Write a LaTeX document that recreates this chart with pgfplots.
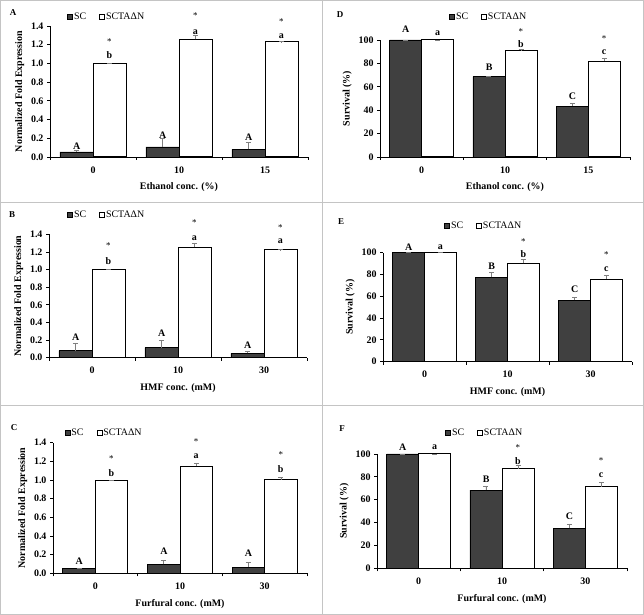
\documentclass[border=0pt]{standalone}
\usepackage{pgfplots}
\pgfplotsset{compat=1.18}
\usepackage{fontspec}
\setmainfont{Liberation Serif}
\definecolor{darkbar}{HTML}{404040}
\definecolor{framegray}{HTML}{C4C4C4}
\definecolor{errgray}{HTML}{808080}

\pgfplotsset{
  panel/.style={
    scale only axis, anchor=south west, at={(0,0)},
    xmin=-0.5, xmax=2.5, ymin=0,
    axis x line=bottom, axis y line=left,
    axis line style={-, black, line width=0.8bp},
    xtick={-0.5,0.5,1.5,2.5}, xticklabels={},
    extra x ticks={0,1,2}, extra x tick style={major tick length=0pt},
    tick align=outside, major tick length=3bp,
    tick style={black, line width=0.8bp},
    ybar=0pt, bar width=0.385,
    clip=false,
    /pgf/number format/assume math mode=true,
    tick label style={font=\fontsize{10}{11}\selectfont\bfseries},
    xticklabel style={yshift=-6bp},
    label style={font=\fontsize{10}{11}\selectfont\bfseries},
    error bars/y dir=plus, error bars/y explicit,
    error bars/error bar style={errgray, line width=0.6bp},
    error bars/error mark options={rotate=90, mark size=2.5bp, draw=errgray, line width=0.6bp},
    legend columns=2,
    legend style={draw=none, fill=none, font=\fontsize{10}{11}\selectfont, inner sep=0pt,
      nodes={inner sep=1bp}, /tikz/every even column/.append style={column sep=12bp}},
    legend image code/.code={\draw[#1, line width=0.6bp, draw=black] (0bp,-2.6bp) rectangle (5.2bp,2.6bp);},
  },
  fe/.style={ymax=1.4, ytick={0,0.2,0.4,0.6,0.8,1.0,1.2,1.4},
    yticklabel style={/pgf/number format/.cd, fixed, fixed zerofill, precision=1},
    ylabel={Normalized Fold Expression}},
  sv/.style={ymax=100, ytick={0,20,40,60,80,100}, ylabel={Survival (\%)}},
  scbar/.style={fill=darkbar, draw=black, line width=0.7bp},
  tabar/.style={fill=white, draw=black, line width=1bp},
}
\tikzset{
  ann/.style={font=\fontsize{10}{11}\selectfont\bfseries, inner sep=0pt},
  ast/.style={font=\fontsize{9}{10}\selectfont, inner sep=0pt},
  plab/.style={font=\fontsize{9}{10}\selectfont\bfseries, inner sep=0pt},
}

\begin{document}
\begin{tikzpicture}
\useasboundingbox (0bp,0bp) rectangle (644bp,615bp);
\draw[framegray, line width=0.8bp] (0.4bp,0.4bp) rectangle (643.6bp,614.6bp);
\draw[framegray, line width=0.8bp] (322.5bp,0bp) -- (322.5bp,615bp);
\draw[framegray, line width=0.8bp] (0bp,413bp) -- (644bp,413bp);
\draw[framegray, line width=0.8bp] (0bp,210bp) -- (644bp,210bp);

\node[plab] at (13bp,602bp) {A};
\node[plab] at (340bp,600bp) {D};
\node[plab] at (12bp,400bp) {B};
\node[plab] at (341bp,393bp) {E};
\node[plab] at (14bp,187bp) {C};
\node[plab] at (342bp,186bp) {F};

% ---------------- A ----------------
\begin{scope}[shift={(50bp,458bp)}]
\begin{axis}[panel, fe, width=258bp, height=131bp,
  extra x tick labels={0,10,15}, xlabel={Ethanol conc. (\%)},
  legend style={at={(0.066,1.069)}, anchor=west}]
\addplot[scbar] coordinates {(0,0.054) +- (0,0.014) (1,0.107) +- (0,0.093) (2,0.082) +- (0,0.072)};
\addplot[tabar] coordinates {(0,1.0) +- (0,0) (1,1.257) +- (0,0.043) (2,1.229) +- (0,0.004)};
\legend{SC, SCTAΔN}
\node[ann] at (axis cs:-0.19,0.118) {A};
\node[ann] at (axis cs:0.81,0.232) {A};
\node[ann] at (axis cs:1.81,0.214) {A};
\node[ann] at (axis cs:0.19,1.087) {b};
\node[ann] at (axis cs:1.19,1.336) {a};
\node[ann] at (axis cs:2.19,1.29) {a};
\node[ast] at (axis cs:0.19,1.229) {*};
\node[ast] at (axis cs:1.19,1.514) {*};
\node[ast] at (axis cs:2.19,1.443) {*};
\end{axis}
\end{scope}

% ---------------- D ----------------
\begin{scope}[shift={(380bp,458bp)}]
\begin{axis}[panel, sv, width=250bp, height=117bp,
  extra x tick labels={0,10,15}, xlabel={Ethanol conc. (\%)},
  legend style={at={(0.276,1.197)}, anchor=west}]
\addplot[scbar] coordinates {(0,100) +- (0,0) (1,68.6) +- (0,0.6) (2,43.4) +- (0,2.3)};
\addplot[tabar] coordinates {(0,100) +- (0,0) (1,90.9) +- (0,0.8) (2,82) +- (0,2.3)};
\legend{SC, SCTAΔN}
\node[ann] at (axis cs:-0.19,109) {A};
\node[ann] at (axis cs:0.81,77) {B};
\node[ann] at (axis cs:1.81,52) {C};
\node[ann] at (axis cs:0.19,105.7) {a};
\node[ann] at (axis cs:1.19,96.6) {b};
\node[ann] at (axis cs:2.19,89.4) {c};
\node[ast] at (axis cs:1.19,107) {*};
\node[ast] at (axis cs:2.19,101.4) {*};
\end{axis}
\end{scope}

% ---------------- B ----------------
\begin{scope}[shift={(49bp,257.3bp)}]
\begin{axis}[panel, fe, width=258bp, height=123.4bp,
  extra x tick labels={0,10,30}, xlabel={HMF conc. (mM)},
  legend style={at={(0.07,1.156)}, anchor=west}]
\addplot[scbar] coordinates {(0,0.08) +- (0,0.083) (1,0.114) +- (0,0.086) (2,0.05) +- (0,0.018)};
\addplot[tabar] coordinates {(0,1.004) +- (0,0) (1,1.254) +- (0,0.045) (2,1.223) +- (0,0.003)};
\legend{SC, SCTAΔN}
\node[ann] at (axis cs:-0.19,0.231) {A};
\node[ann] at (axis cs:0.81,0.276) {A};
\node[ann] at (axis cs:1.81,0.144) {A};
\node[ann] at (axis cs:0.19,1.097) {b};
\node[ann] at (axis cs:1.19,1.354) {a};
\node[ann] at (axis cs:2.19,1.317) {a};
\node[ast] at (axis cs:0.19,1.267) {*};
\node[ast] at (axis cs:1.19,1.532) {*};
\node[ast] at (axis cs:2.19,1.479) {*};
\end{axis}
\end{scope}

% ---------------- E ----------------
\begin{scope}[shift={(383bp,253.3bp)}]
\begin{axis}[panel, sv, width=249bp, height=109bp,
  extra x tick labels={0,10,30}, xlabel={HMF conc. (mM)},
  legend style={at={(0.245,1.245)}, anchor=west}]
\addplot[scbar] coordinates {(0,100) +- (0,0) (1,77.4) +- (0,4.6) (2,56.6) +- (0,2.4)};
\addplot[tabar] coordinates {(0,100) +- (0,0) (1,90.2) +- (0,3.7) (2,75.8) +- (0,3.1)};
\legend{SC, SCTAΔN}
\node[ann] at (axis cs:-0.19,104.9) {A};
\node[ann] at (axis cs:0.81,87.8) {B};
\node[ann] at (axis cs:1.81,66.4) {C};
\node[ann] at (axis cs:0.19,104.9) {a};
\node[ann] at (axis cs:1.19,98.5) {b};
\node[ann] at (axis cs:2.19,85) {c};
\node[ast] at (axis cs:1.19,110) {*};
\node[ast] at (axis cs:2.19,97.9) {*};
\end{axis}
\end{scope}

% ---------------- C ----------------
\begin{scope}[shift={(53bp,41.7bp)}]
\begin{axis}[panel, fe, width=254bp, height=130.6bp,
  extra x tick labels={0,10,30}, xlabel={Furfural conc. (mM)},
  legend style={at={(0.045,1.074)}, anchor=west}]
\addplot[scbar] coordinates {(0,0.05) +- (0,0.002) (1,0.095) +- (0,0.042) (2,0.066) +- (0,0.049)};
\addplot[tabar] coordinates {(0,1.0) +- (0,0) (1,1.15) +- (0,0.03) (2,1.005) +- (0,0.02)};
\legend{SC, SCTAΔN}
\node[ann] at (axis cs:-0.19,0.125) {A};
\node[ann] at (axis cs:0.81,0.232) {A};
\node[ann] at (axis cs:1.81,0.214) {A};
\node[ann] at (axis cs:0.19,1.071) {b};
\node[ann] at (axis cs:1.19,1.25) {a};
\node[ann] at (axis cs:2.19,1.118) {b};
\node[ast] at (axis cs:0.19,1.232) {*};
\node[ast] at (axis cs:1.19,1.411) {*};
\node[ast] at (axis cs:2.19,1.268) {*};
\end{axis}
\end{scope}

% ---------------- F ----------------
\begin{scope}[shift={(377bp,46.7bp)}]
\begin{axis}[panel, sv, width=250bp, height=114.3bp,
  extra x tick labels={0,10,30}, xlabel={Furfural conc. (mM)},
  legend style={at={(0.272,1.184)}, anchor=west}]
\addplot[scbar] coordinates {(0,100) +- (0,0) (1,68.5) +- (0,3.5) (2,35) +- (0,3.8)};
\addplot[tabar] coordinates {(0,100) +- (0,0) (1,86.9) +- (0,3.5) (2,71.4) +- (0,3.8)};
\legend{SC, SCTAΔN}
\node[ann] at (axis cs:-0.19,105.8) {A};
\node[ann] at (axis cs:0.81,78.1) {B};
\node[ann] at (axis cs:1.81,45.2) {C};
\node[ann] at (axis cs:0.19,105.8) {a};
\node[ann] at (axis cs:1.19,93.9) {b};
\node[ann] at (axis cs:2.19,81.6) {c};
\node[ast] at (axis cs:1.19,105.5) {*};
\node[ast] at (axis cs:2.19,93.9) {*};
\end{axis}
\end{scope}
\end{tikzpicture}
\end{document}
